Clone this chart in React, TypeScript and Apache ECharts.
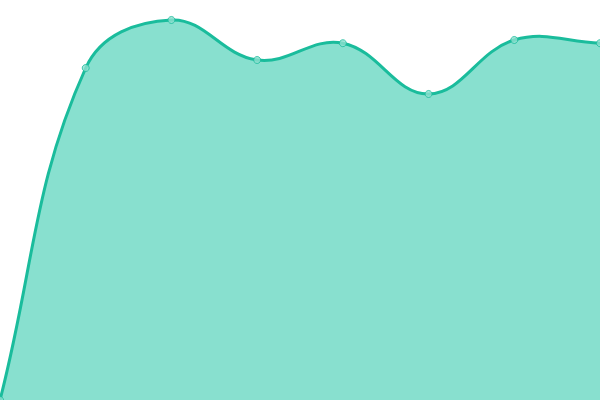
import { useEffect, useRef } from 'react';
import * as echarts from 'echarts';

const categories = ['1', '2', '3', '4', '5', '6', '7', '8'];
const values = [0, 83, 95, 85, 89.2, 76.5, 90, 89.2];

const TENSION = 0.4;

// cardinal-style spline, control points weighted by segment length
function splinePath(pts: number[][]) {
  const cps: number[][][] = pts.map((cur, i) => {
    const prev = pts[i - 1] || cur;
    const next = pts[i + 1] || cur;
    const d01 = Math.hypot(cur[0] - prev[0], cur[1] - prev[1]);
    const d12 = Math.hypot(next[0] - cur[0], next[1] - cur[1]);
    let s01 = d01 / (d01 + d12);
    let s12 = d12 / (d01 + d12);
    if (isNaN(s01)) s01 = 0;
    if (isNaN(s12)) s12 = 0;
    const fa = TENSION * s01;
    const fb = TENSION * s12;
    return [
      [cur[0] - fa * (next[0] - prev[0]), cur[1] - fa * (next[1] - prev[1])],
      [cur[0] + fb * (next[0] - prev[0]), cur[1] + fb * (next[1] - prev[1])],
    ];
  });
  let d = `M${pts[0][0]},${pts[0][1]}`;
  for (let i = 1; i < pts.length; i++) {
    const c1 = cps[i - 1][1];
    const c2 = cps[i][0];
    d += ` C${c1[0]},${c1[1]} ${c2[0]},${c2[1]} ${pts[i][0]},${pts[i][1]}`;
  }
  return d;
}

export default function App() {
  const chartRef = useRef<HTMLDivElement>(null);

  useEffect(() => {
    if (!chartRef.current) return;
    const chart = echarts.init(chartRef.current, undefined, { renderer: 'svg' });

    chart.setOption({
      animation: false,
      grid: { left: 0, right: 0, top: 0, bottom: 0 },
      xAxis: {
        type: 'category',
        boundaryGap: false,
        data: categories,
        show: false,
      },
      yAxis: {
        type: 'value',
        min: 0,
        max: 100,
        show: false,
      },
      series: [
        {
          type: 'custom',
          data: [[0, values[0]]],
          clip: true,
          renderItem: (params: any, api: any) => {
            const pts = values.map((v, i) => api.coord([i, v]));
            const line = splinePath(pts);
            const base = api.coord([0, 0])[1];
            const last = pts[pts.length - 1];
            const area = `${line} L${last[0]},${base} L${pts[0][0]},${base} Z`;
            return {
              type: 'group',
              children: [
                {
                  type: 'path',
                  shape: { pathData: area },
                  style: { fill: '#88e0cf', stroke: 'none' },
                },
                {
                  type: 'path',
                  shape: { pathData: line },
                  style: { fill: 'none', stroke: '#1abc9c', lineWidth: 3 },
                },
              ],
            };
          },
        },
        {
          type: 'scatter',
          data: values,
          symbol: 'circle',
          symbolSize: 7,
          itemStyle: { color: '#8ee0d0', borderColor: '#1abc9c', borderWidth: 1 },
          z: 3,
        },
      ],
    });

    return () => {
      chart.dispose();
    };
  }, []);

  return (
    <div
      ref={chartRef}
      style={{ position: 'absolute', left: 0, top: 0, width: 600, height: 400 }}
    />
  );
}
